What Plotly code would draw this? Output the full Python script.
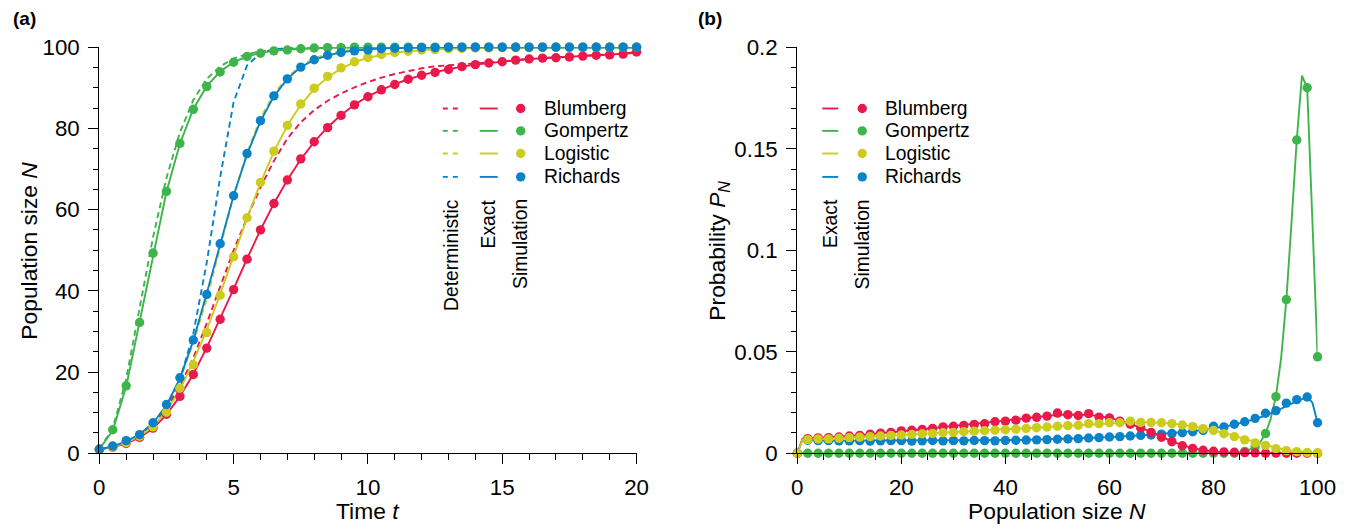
import plotly.graph_objects as go

# Figure size (page is offset by the browser's default 8px body margin)
OFF = 8
FW, FH = 1358, 534
# empirical mapping between page pixels and the photographed picture
SX, BX = 0.983, 4.7
SY, BY = 0.953, 12.2

# ---------------- Panel (a) data: time grid and population sizes ----------------
t_vals = [i * 0.5 for i in range(41)]

blum_sim = [1, 1.5, 2.4, 3.9, 6.2, 9.6, 14.0, 19.4, 25.9, 33.0, 40.3, 47.8, 55.0, 61.5, 67.3,
            72.5, 76.7, 80.2, 83.2, 85.8, 87.8, 89.5, 90.8, 92.1, 93.1, 93.8, 94.5, 95.2, 95.7,
            96.1, 96.4, 96.8, 97.1, 97.3, 97.4, 97.6, 97.8, 98.0, 98.1, 98.3, 98.8]
blum_exact = [1, 1.5, 2.4, 3.9, 6.1, 9.5, 14.0, 19.5, 26.0, 33.1, 40.5, 47.9, 55.0, 61.5, 67.3,
              72.4, 76.7, 80.3, 83.3, 85.8, 87.9, 89.5, 90.9, 92.1, 93.1, 93.9, 94.6, 95.2, 95.7,
              96.1, 96.5, 96.8, 97.1, 97.3, 97.5, 97.7, 97.9, 98.1, 98.2, 98.4, 98.8]
blum_det = [1, 1.6, 2.6, 4.3, 7.0, 11.0, 16.5, 23.5, 32.0, 41.0, 50.0, 58.0, 65.5, 72.0, 77.5,
            81.5, 84.5, 86.8, 88.6, 90.1, 91.4, 92.5, 93.4, 94.1, 94.8, 95.3, 95.6, 95.8, 96.0,
            96.2, 96.5, 96.8, 97.1, 97.3, 97.5, 97.7, 97.9, 98.1, 98.2, 98.4, 98.6]

gomp_sim = [1, 5.8, 16.6, 32.2, 49.3, 64.5, 76.3, 84.7, 90.3, 93.9, 96.3, 97.7, 98.5, 99.1, 99.3,
            99.6, 99.8, 99.9, 99.9, 100, 100, 100, 100, 100, 100, 100, 100, 100, 100, 100, 100,
            100, 100, 100, 100, 100, 100, 100, 100, 100, 100]
gomp_exact = [1, 5.6, 16.4, 32.4, 49.2, 64.4, 76.2, 84.8, 90.4, 94.0, 96.3, 97.7, 98.6, 99.1, 99.4,
              99.6, 99.8, 99.85, 99.9, 99.95, 100, 100, 100, 100, 100, 100, 100, 100, 100, 100,
              100, 100, 100, 100, 100, 100, 100, 100, 100, 100, 100]
gomp_det = [1, 6.1, 18.3, 35.6, 53.2, 67.8, 79.0, 87.0, 92.2, 95.3, 97.2, 98.3, 99.0, 99.4, 99.6,
            99.8, 99.9, 99.95, 100, 100, 100, 100, 100, 100, 100, 100, 100, 100, 100, 100, 100,
            100, 100, 100, 100, 100, 100, 100, 100, 100, 100]

logi_sim = [1, 1.6, 2.6, 4.2, 6.5, 10.1, 16.0, 21.8, 29.7, 38.9, 48.4, 58.0, 66.7, 74.4, 80.7,
            86.0, 89.9, 92.8, 94.9, 96.4, 97.5, 98.2, 98.7, 99.0, 99.3, 99.4, 99.6, 99.7, 99.8,
            99.8, 99.9, 99.9, 99.9, 100, 100, 100, 100, 100, 100, 100, 100]
logi_exact = [1, 1.6, 2.6, 4.2, 6.6, 10.3, 15.6, 22.6, 30.4, 39.2, 48.6, 57.9, 66.6, 74.3, 80.7,
              85.8, 89.7, 92.6, 94.7, 96.3, 97.4, 98.1, 98.7, 99.0, 99.3, 99.5, 99.6, 99.7, 99.8,
              99.85, 99.9, 99.9, 99.95, 100, 100, 100, 100, 100, 100, 100, 100]
logi_det = [1, 1.7, 2.8, 4.6, 7.5, 11.9, 18.3, 27.2, 38.0, 50.8, 63.5, 74.0, 82.5, 88.5, 92.6,
            95.4, 97.2, 98.3, 99.0, 99.4, 99.6, 99.8, 99.9, 99.9, 100, 100, 100, 100, 100, 100,
            100, 100, 100, 100, 100, 100, 100, 100, 100, 100, 100]

rich_sim = [1, 1.8, 3.1, 4.6, 7.5, 12.0, 18.6, 27.9, 39.1, 51.6, 63.4, 73.8, 81.9, 88.0, 92.2,
            95.1, 96.9, 98.0, 98.7, 99.1, 99.3, 99.6, 99.75, 99.8, 99.9, 99.9, 100, 100, 100,
            100, 100, 100, 100, 100, 100, 100, 100, 100, 100, 100, 100]
rich_exact = [1, 1.7, 2.9, 4.7, 7.4, 11.8, 18.4, 27.8, 39.4, 51.8, 63.5, 73.6, 81.8, 87.9, 92.2,
              95.1, 96.9, 98.0, 98.7, 99.2, 99.5, 99.7, 99.8, 99.9, 99.9, 100, 100, 100, 100,
              100, 100, 100, 100, 100, 100, 100, 100, 100, 100, 100, 100]
rich_det = [1, 1.6, 2.7, 4.3, 7.0, 11.3, 18.0, 29.5, 47.0, 68.0, 86.5, 95.5, 98.5, 99.5, 99.8,
            99.95, 100, 100, 100, 100, 100, 100, 100, 100, 100, 100, 100, 100, 100, 100, 100,
            100, 100, 100, 100, 100, 100, 100, 100, 100, 100]

# ---------------- Panel (b) data: stationary distributions ----------------
N_sim = list(range(0, 101, 2))
N_exact = [0, 1] + list(range(2, 101, 2))
N_exact_b = [0, 1] + list(range(2, 99, 2)) + [99, 100]
N_exact_g = [0, 80, 84, 86, 88, 89, 90, 91, 92, 93, 94, 95, 96, 97, 98, 99, 100]

p_blum_sim = [0, 0.0072, 0.0076, 0.0077, 0.0080, 0.0085, 0.0088, 0.0094, 0.0099, 0.0103, 0.0110,
              0.0113, 0.0117, 0.0122, 0.0130, 0.0133, 0.0137, 0.0142, 0.0145, 0.0155, 0.0158,
              0.0163, 0.0173, 0.0177, 0.0183, 0.0198, 0.0190, 0.0186, 0.0195, 0.0178, 0.0174,
              0.0158, 0.0143, 0.0125, 0.0103, 0.0079, 0.0057, 0.0037, 0.0024, 0.0015, 0.0010,
              0.0007, 0.0005, 0.0003, 0.0002, 0.0001, 0.0001, 0, 0, 0, 0]
p_logi_sim = [0, 0.0067, 0.0070, 0.0071, 0.0074, 0.0077, 0.0079, 0.0082, 0.0085, 0.0088, 0.0090,
              0.0093, 0.0096, 0.0098, 0.0101, 0.0103, 0.0106, 0.0109, 0.0111, 0.0114, 0.0116,
              0.0119, 0.0122, 0.0126, 0.0129, 0.0133, 0.0136, 0.0138, 0.0146, 0.0146, 0.0151,
              0.0150, 0.0158, 0.0152, 0.0152, 0.0150, 0.0146, 0.0139, 0.0131, 0.0121, 0.0112,
              0.0096, 0.0082, 0.0066, 0.0051, 0.0039, 0.0022, 0.0013, 0.0008, 0.0004, 0.0002]
p_rich_sim = [0, 0.0064, 0.0062, 0.0062, 0.0061, 0.0061, 0.0062, 0.0060, 0.0061, 0.0062, 0.0062,
              0.0060, 0.0061, 0.0063, 0.0061, 0.0062, 0.0061, 0.0063, 0.0062, 0.0061, 0.0063,
              0.0064, 0.0065, 0.0066, 0.0067, 0.0069, 0.0070, 0.0072, 0.0075, 0.0077, 0.0080,
              0.0082, 0.0085, 0.0088, 0.0090, 0.0094, 0.0097, 0.0101, 0.0106, 0.0112, 0.0133,
              0.0130, 0.0143, 0.0155, 0.0172, 0.0197, 0.0210, 0.0247, 0.0264, 0.0277, 0.0150]
p_gomp_sim = [0, 0, 0, 0, 0, 0, 0, 0, 0, 0, 0, 0, 0, 0, 0, 0, 0, 0, 0, 0, 0, 0, 0, 0, 0, 0, 0,
              0, 0, 0, 0, 0, 0, 0, 0, 0, 0, 0, 0, 0, 0, 0, 0,
              0.0009, 0.0032, 0.0097, 0.0279, 0.0757, 0.1543, 0.1800, 0.0475]

p_blum_exact = [0, 0.0072, 0.0073, 0.0075, 0.0078, 0.0081, 0.0085, 0.0089, 0.0093, 0.0098, 0.0103,
                0.0108, 0.0113, 0.0118, 0.0123, 0.0128, 0.0134, 0.0139, 0.0145, 0.0150, 0.0156,
                0.0162, 0.0168, 0.0174, 0.0180, 0.0185, 0.0189, 0.0191, 0.0191, 0.0189, 0.0183,
                0.0174, 0.0161, 0.0145, 0.0126, 0.0104, 0.0081, 0.0059, 0.0040, 0.0025, 0.0015,
                0.0008, 0.0004, 0.0002, 0.0001, 0, 0, 0, 0, 0, 0, 0]
p_logi_exact = [0, 0.0067, 0.0068, 0.0070, 0.0072, 0.0074, 0.0076, 0.0079, 0.0082, 0.0084, 0.0087,
                0.0090, 0.0093, 0.0096, 0.0098, 0.0101, 0.0104, 0.0107, 0.0110, 0.0113, 0.0116,
                0.0119, 0.0122, 0.0125, 0.0128, 0.0131, 0.0134, 0.0137, 0.0140, 0.0143, 0.0146,
                0.0148, 0.0150, 0.0152, 0.0153, 0.0152, 0.0150, 0.0146, 0.0140, 0.0133, 0.0124,
                0.0113, 0.0100, 0.0086, 0.0071, 0.0056, 0.0041, 0.0027, 0.0016, 0.0009, 0.0004,
                0.0002]
p_rich_exact = [0, 0.0068, 0.0064, 0.0062, 0.0062, 0.0062, 0.0062, 0.0062, 0.0062, 0.0062, 0.0062,
                0.0062, 0.0062, 0.0062, 0.0062, 0.0062, 0.0062, 0.0062, 0.0062, 0.0063, 0.0063,
                0.0064, 0.0065, 0.0066, 0.0067, 0.0068, 0.0069, 0.0071, 0.0073, 0.0075, 0.0077,
                0.0079, 0.0082, 0.0085, 0.0088, 0.0091, 0.0095, 0.0099, 0.0104, 0.0109, 0.0115,
                0.0122, 0.0131, 0.0141, 0.0153, 0.0168, 0.0186, 0.0207, 0.0232, 0.0257, 0.0277,
                0.0250, 0.0150]
p_gomp_exact = [0, 0, 0.0002, 0.0008, 0.0030, 0.0055, 0.0097, 0.0170, 0.0280, 0.0470, 0.0757,
                0.1140, 0.1543, 0.1860, 0.1800, 0.1150, 0.0475]

models = ["Blumberg", "Gompertz", "Logistic", "Richards"]
colors = {"Blumberg": "#E8194B", "Gompertz": "#3DB54A", "Logistic": "#CCCC1E", "Richards": "#0A82C8"}

FONT = "Liberation Sans, Arial, Helvetica, sans-serif"
LW = 1.9
MS = 9.4
DASH = "6px,4px"

fig = go.Figure()

series_a = {
    "Blumberg": (blum_det, blum_exact, blum_sim),
    "Gompertz": (gomp_det, gomp_exact, gomp_sim),
    "Logistic": (logi_det, logi_exact, logi_sim),
    "Richards": (rich_det, rich_exact, rich_sim),
}
for m in models:
    fig.add_trace(go.Scatter(x=t_vals, y=series_a[m][0], mode="lines", xaxis="x", yaxis="y",
                             line=dict(color=colors[m], width=LW, dash=DASH),
                             showlegend=False, cliponaxis=False))
for m in models:
    fig.add_trace(go.Scatter(x=t_vals, y=series_a[m][1], mode="lines", xaxis="x", yaxis="y",
                             line=dict(color=colors[m], width=LW), showlegend=False,
                             cliponaxis=False))
for m in models:
    fig.add_trace(go.Scatter(x=t_vals, y=series_a[m][2], mode="markers", xaxis="x", yaxis="y",
                             marker=dict(color=colors[m], size=MS), showlegend=False,
                             cliponaxis=False))

exact_b = {
    "Gompertz": (N_exact_g, p_gomp_exact),
    "Richards": (N_exact_b, p_rich_exact),
    "Blumberg": (N_exact, p_blum_exact),
    "Logistic": (N_exact, p_logi_exact),
}
sim_b = {"Gompertz": p_gomp_sim, "Richards": p_rich_sim, "Blumberg": p_blum_sim, "Logistic": p_logi_sim}
order_b = ["Gompertz", "Richards", "Blumberg", "Logistic"]
for m in order_b:
    fig.add_trace(go.Scatter(x=exact_b[m][0], y=exact_b[m][1], mode="lines", xaxis="x2", yaxis="y2",
                             line=dict(color=colors[m], width=LW), showlegend=False,
                             cliponaxis=False))
for m in order_b:
    fig.add_trace(go.Scatter(x=N_sim, y=sim_b[m], mode="markers", xaxis="x2", yaxis="y2",
                             marker=dict(color=colors[m], size=MS), showlegend=False,
                             cliponaxis=False))


# positions below are given in target-picture pixels and converted to paper fractions
def X(sx):
    page = (sx - BX) / SX
    return (page - OFF) / FW


def Y(sy):
    page = (sy - BY) / SY
    return 1 - (page - OFF) / FH


TICKF = 22.3
axis_common = dict(showline=True, linecolor="black", linewidth=1.3, ticks="outside",
                   tickcolor="black", tickwidth=1.3, ticklen=10, showgrid=False, zeroline=False,
                   ticklabelstandoff=4,
                   tickfont=dict(family=FONT, size=TICKF, color="black"))
minor_common = dict(ticks="outside", ticklen=5.5, tickcolor="black", tickwidth=1.3)

fig.update_layout(
    width=FW, height=FH, margin=dict(l=0, r=0, t=0, b=0),
    paper_bgcolor="white", plot_bgcolor="white",
    font=dict(family=FONT, color="black"),
    xaxis=dict(domain=[X(98), X(636)], range=[0, 20], dtick=5, anchor="y",
               minor=dict(dtick=1, **minor_common), **axis_common),
    yaxis=dict(domain=[Y(453), Y(47)], range=[0, 100], dtick=20, anchor="x",
               minor=dict(dtick=5, **minor_common), **axis_common),
    xaxis2=dict(domain=[X(797), X(1318)], range=[0, 100], dtick=20, anchor="y2",
                minor=dict(dtick=5, **minor_common), **axis_common),
    yaxis2=dict(domain=[Y(453), Y(47)], range=[0, 0.2], dtick=0.05, anchor="x2",
                minor=dict(dtick=0.01, **minor_common), **axis_common),
)

ann = []
shapes = []
TF = 22.8
LF = 19.3


def text(t, sx, sy, size, angle=0, xa="center", ya="middle"):
    ann.append(dict(text=t, x=X(sx), y=Y(sy), xref="paper", yref="paper", xanchor=xa,
                    yanchor=ya, textangle=angle, showarrow=False,
                    font=dict(size=size, family=FONT, color="black")))


# axis titles
text("Population size <i>N</i>", 28, 250, TF, -90)
text("Time <i>t</i>", 367, 511, TF)
text("Probability <i>P</i><sub><i>N</i></sub>", 718, 250, TF, -90)
text("Population size <i>N</i>", 1057, 511, TF)
# panel labels
text("<b>(a)</b>", 10, 18, 19, xa="left")
text("<b>(b)</b>", 696, 18, 19, xa="left")

rows = [108.3, 130.7, 153.3, 176.7]


def legend(det_x, exact_x, sim_x, text_x):
    for m, r in zip(models, rows):
        c = colors[m]
        if det_x is not None:
            shapes.append(dict(type="line", xref="paper", yref="paper", x0=X(det_x[0]),
                               x1=X(det_x[1]), y0=Y(r), y1=Y(r),
                               line=dict(color=c, width=LW, dash="5px,5px")))
        shapes.append(dict(type="line", xref="paper", yref="paper", x0=X(exact_x[0]),
                           x1=X(exact_x[1]), y0=Y(r), y1=Y(r), line=dict(color=c, width=LW)))
        shapes.append(dict(type="circle", xref="paper", yref="paper", xsizemode="pixel",
                           ysizemode="pixel", xanchor=X(sim_x), yanchor=Y(r), x0=-4.7, x1=4.7,
                           y0=-4.7, y1=4.7, fillcolor=c, line=dict(width=0)))
        text(m, text_x, r, LF, xa="left")
    labs = []
    if det_x is not None:
        labs.append(("Deterministic", (det_x[0] + det_x[1]) / 2))
    labs.append(("Exact", (exact_x[0] + exact_x[1]) / 2))
    labs.append(("Simulation", sim_x))
    for txt, cx in labs:
        text(txt, cx, 197, LF, -90, xa="center", ya="top")


legend((442, 458), (479, 497), 520, 541.5)
legend(None, (822, 838), 862, 883)

fig.update_layout(annotations=ann, shapes=shapes)
fig.write_html("out.html")
